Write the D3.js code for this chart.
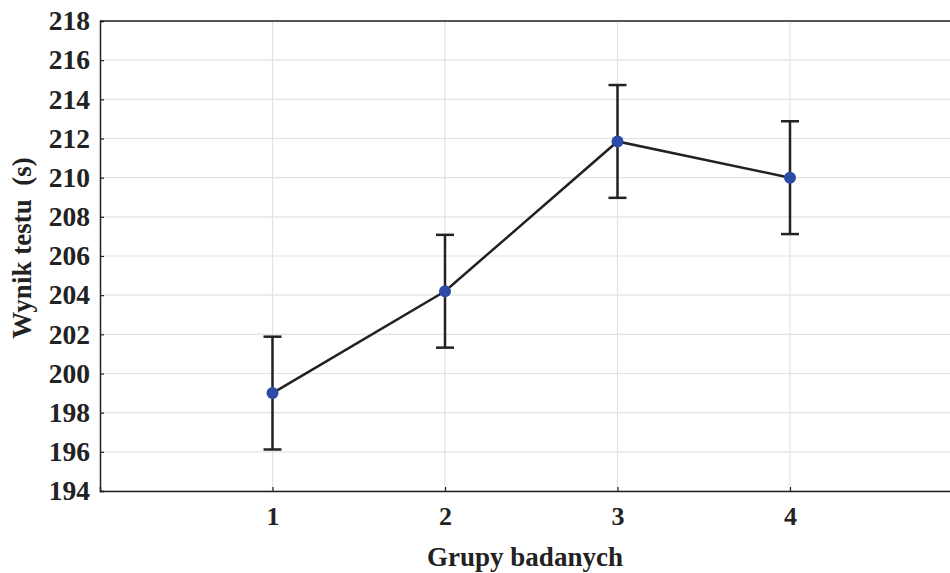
<!DOCTYPE html>
<html lang="pl">
  <head>
    <meta charset="UTF-8" />
    <title>Wynik testu</title>
    <script src="https://d3js.org/d3.v7.min.js"></script>
    <style>
      body { margin: 0; background: #fff; }
      svg { display: block; }
      text { font-family: "Liberation Serif", "Times New Roman", serif; font-weight: bold; fill: #222; }
    </style>
  </head>
  <body>
    <svg id="chart"></svg>
  </body>
  <script>
    const groups = [1, 2, 3, 4];
    const means = [199.0, 204.2, 211.85, 210.0];
    const errors = [2.88, 2.88, 2.88, 2.88];
    const yTicks = [194, 196, 198, 200, 202, 204, 206, 208, 210, 212, 214, 216, 218];

    const width = 950;
    const height = 573;
    const margin = { top: 21, left: 100, bottom: 82 };

    const svg = d3.select("#chart").attr("width", width).attr("height", height);

    const x = d3.scaleLinear().domain([0, 5]).range([margin.left, 962.5]);
    const y = d3.scaleLinear().domain([194, 218]).range([height - margin.bottom, margin.top]);

    // grid
    svg.append("g")
      .selectAll("line.h")
      .data(yTicks)
      .join("line")
      .attr("x1", margin.left)
      .attr("x2", width)
      .attr("y1", (d) => y(d))
      .attr("y2", (d) => y(d))
      .attr("stroke", "#e2e2e2")
      .attr("stroke-width", 1.2);

    svg.append("g")
      .selectAll("line.v")
      .data(groups)
      .join("line")
      .attr("x1", (d) => x(d))
      .attr("x2", (d) => x(d))
      .attr("y1", y(218))
      .attr("y2", y(194))
      .attr("stroke", "#e2e2e2")
      .attr("stroke-width", 1.2);

    // y axis
    const yAxis = svg.append("g")
      .attr("transform", `translate(${margin.left},0)`)
      .call(d3.axisLeft(y).tickValues(yTicks).tickSize(-4).tickPadding(10));
    yAxis.select(".domain").attr("stroke", "#222").attr("stroke-width", 1.5);
    yAxis.selectAll(".tick line").attr("stroke", "#222").attr("stroke-width", 1.2);
    yAxis.selectAll("text").style("font-size", "27.5px").attr("fill", "#222");

    // x axis
    const xAxis = svg.append("g")
      .attr("transform", `translate(0,${y(194)})`)
      .call(d3.axisBottom(x).tickValues(groups).tickFormat(d3.format("d")).tickSize(-4).tickPadding(16));
    xAxis.select(".domain").attr("stroke", "#222").attr("stroke-width", 1.5);
    xAxis.selectAll(".tick line").attr("stroke", "#222").attr("stroke-width", 1.2);
    xAxis.selectAll("text").style("font-size", "26px").attr("fill", "#222");

    // top border
    svg.append("line")
      .attr("x1", margin.left)
      .attr("x2", width)
      .attr("y1", y(218))
      .attr("y2", y(218))
      .attr("stroke", "#222")
      .attr("stroke-width", 1.5);

    const data = groups.map((g, i) => ({ g, m: means[i], e: errors[i] }));

    // error bars
    const eb = svg.append("g").attr("stroke", "#222").attr("stroke-width", 2.5);
    eb.selectAll("line.bar")
      .data(data)
      .join("line")
      .attr("x1", (d) => x(d.g))
      .attr("x2", (d) => x(d.g))
      .attr("y1", (d) => y(d.m + d.e))
      .attr("y2", (d) => y(d.m - d.e));
    eb.selectAll("line.capt")
      .data(data)
      .join("line")
      .attr("x1", (d) => x(d.g) - 9)
      .attr("x2", (d) => x(d.g) + 9)
      .attr("y1", (d) => y(d.m + d.e))
      .attr("y2", (d) => y(d.m + d.e));
    eb.selectAll("line.capb")
      .data(data)
      .join("line")
      .attr("x1", (d) => x(d.g) - 9)
      .attr("x2", (d) => x(d.g) + 9)
      .attr("y1", (d) => y(d.m - d.e))
      .attr("y2", (d) => y(d.m - d.e));

    // mean line
    svg.append("path")
      .datum(data)
      .attr("fill", "none")
      .attr("stroke", "#222")
      .attr("stroke-width", 2.5)
      .attr("d", d3.line().x((d) => x(d.g)).y((d) => y(d.m)));

    svg.append("g")
      .selectAll("circle")
      .data(data)
      .join("circle")
      .attr("cx", (d) => x(d.g))
      .attr("cy", (d) => y(d.m))
      .attr("r", 6)
      .attr("fill", "#2b4ba6");

    // axis titles
    svg.append("text")
      .attr("x", 525)
      .attr("y", 566)
      .attr("text-anchor", "middle")
      .style("font-size", "27px")
      .text("Grupy badanych");

    svg.append("text")
      .attr("transform", `translate(31,248) rotate(-90)`)
      .attr("text-anchor", "middle")
      .style("font-size", "27px")
      .style("white-space", "pre")
      .text("Wynik testu  (s)");
  </script>
</html>
